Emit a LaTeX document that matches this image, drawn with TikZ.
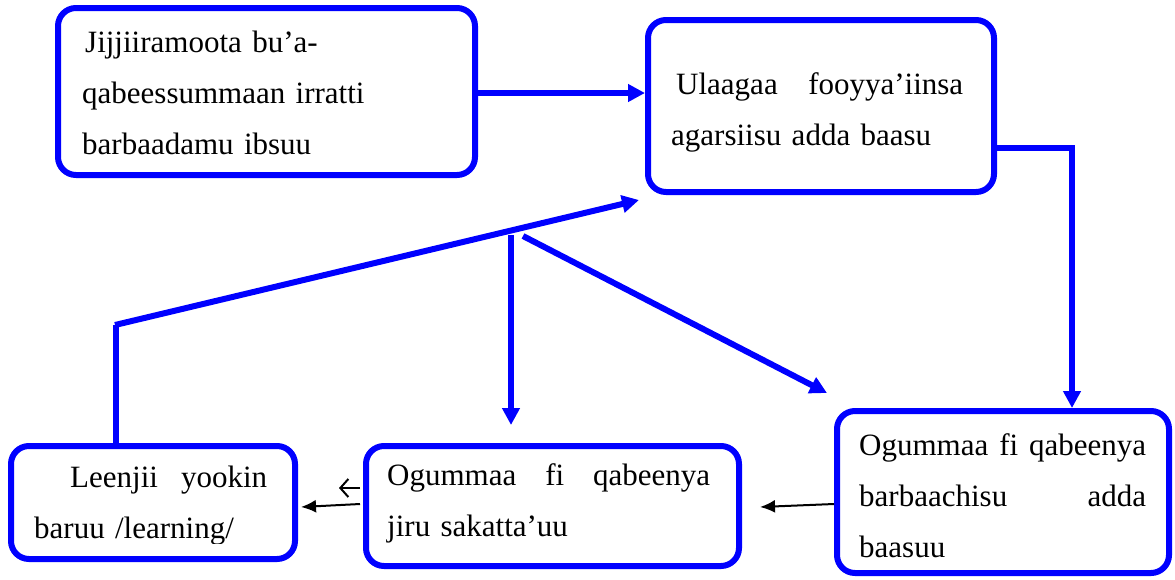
\documentclass[tikz,border=0pt]{standalone}
\usepackage{fontspec}
\setmainfont{Liberation Serif}
\usetikzlibrary{arrows.meta,calc}
\newcommand\boxfont{\fontsize{31}{51}\selectfont}
\begin{document}
\begin{tikzpicture}[x=1pt,y=-1pt,
  box/.style={draw=blue, line width=6pt, rounded corners=18pt, fill=white},
  txt/.style={font=\boxfont, align=left, inner sep=0pt, anchor=base west},
  bluearrow/.style={draw=blue, line width=6pt, -{Triangle[length=17pt,width=17pt]}},
  thinarrow/.style={draw=black, line width=2pt, -{Latex[length=15pt,width=13pt]}},
  openarrow/.style={draw=black, line width=2pt, -{Straight Barb[length=8pt,width=18pt]}}]
\useasboundingbox (0,0) rectangle (1175,579);

% boxes
\node[box, minimum width=417pt, minimum height=167pt] (A) at (266.5,91.5) {};
\node[box, minimum width=346pt, minimum height=172pt] (B) at (821,106) {};
\node[box, minimum width=332pt, minimum height=162pt] (C) at (1003,492) {};
\node[box, minimum width=373pt, minimum height=120pt] (D) at (552.5,506) {};
\node[box, minimum width=284pt, minimum height=113pt] (E) at (153,502.5) {};

% texts
\node[txt, text width=380pt] (At) at ($(A.north west)+(27,47)$)
  {\hspace*{3pt}Jijjiiramoota bu'a-\\qabeessummaan irratti\\barbaadamu ibsuu};
\node[txt, text width=292pt] (Bt) at ($(B.north west)+(26,77)$)
  {\hspace*{5pt}\makebox[287pt]{Ulaagaa\hfill fooyya'iinsa}\\agarsiisu adda baasu};
\node[txt, text width=287pt] (Ct) at ($(C.north west)+(25,47)$)
  {\makebox[287pt]{Ogummaa\hfill fi\hfill qabeenya}\\\makebox[287pt]{barbaachisu\hfill adda}\\baasuu};
\node[txt, text width=323pt] (Dt) at ($(D.north west)+(24,42)$)
  {\makebox[323pt]{Ogummaa\hfill fi\hfill qabeenya}\\jiru sakatta'uu};
\begin{scope}
  \clip (E.north west) rectangle ($(E.east)+(0,40.5)$);
  \node[txt, text width=233pt] (Et) at ($(E.north west)+(26,44)$)
    {\hspace*{36pt}\makebox[197pt]{Leenjii\hfill yookin}\\baruu /learning/};
\end{scope}

\coordinate (y93) at (0,93);
\coordinate (y148) at (0,148);
\coordinate (x1072) at (1072,0);
\coordinate (ebend) at (116,325);
\coordinate (s1) at (511,235);
\coordinate (s2) at (523,236);

% A -> B
\draw[bluearrow] (A.east |- y93) -- (B.west |- y93);
% B -> C
\draw[bluearrow] (B.east |- y148) -| (C.north -| x1072);
% E -> B
\draw[blue, line width=6pt] (E.north -| ebend) -- (ebend);
\draw[bluearrow] ($(ebend)+(-1,0)$) -- ($(B.south west)+(-6,5)$);
% down arrows
\draw[bluearrow, shorten >=18pt] (s1) -- (D.north -| s1);
\draw[bluearrow] (s2) -- ($(C.north west)+(-7,-15)$);
% thin black arrows
\draw[thinarrow] ($(C.west)+(0,12)$) -- ($(D.east)+(18,1)$);
\draw[thinarrow] ($(D.west)+(-3,-2)$) -- ($(E.east)+(3,4.5)$);
\draw[openarrow] ($(D.west)+(-3,-18)$) -- ($(D.west)+(-24,-18)$);
\end{tikzpicture}
\end{document}
